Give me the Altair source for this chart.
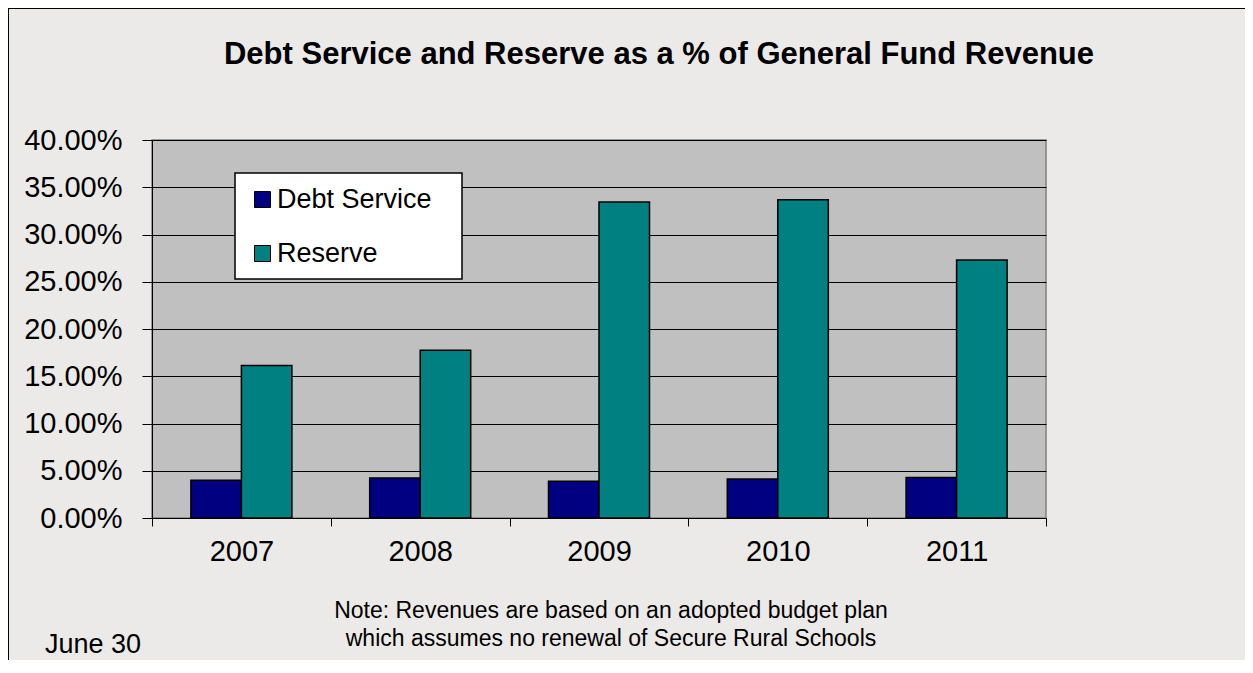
import altair as alt
import pandas as pd

years = ["2007", "2008", "2009", "2010", "2011"]
debt_service = [0.0399, 0.0424, 0.0388, 0.0413, 0.0428]
reserve = [0.1614, 0.1776, 0.3344, 0.3369, 0.2730]
series = ["Debt Service", "Reserve"]
colors = ["#000080", "#008080"]
y_ticks = [0.0, 0.05, 0.10, 0.15, 0.20, 0.25, 0.30, 0.35, 0.40]
title_text = "Debt Service and Reserve as a % of General Fund Revenue"
note_text = "Note:  Revenues are based on an adopted budget plan\nwhich assumes no renewal of Secure Rural Schools"
date_text = "June 30"

FONT = "Liberation Sans, Arial, sans-serif"

rows = []
for i, yr in enumerate(years):
    rows.append({"Year": yr, "Series": series[0], "Value": debt_service[i]})
    rows.append({"Year": yr, "Series": series[1], "Value": reserve[i]})
df = pd.DataFrame(rows)

one = alt.Data(values=[{"a": 1}])

# white legend box behind the legend entries
legend_box = alt.Chart(one).mark_rect(fill="white", stroke="black", strokeWidth=1.5).encode(
    x=alt.value(83), x2=alt.value(310), y=alt.value(33), y2=alt.value(139))

bars = alt.Chart(df).mark_bar(stroke="black", strokeWidth=1.5).encode(
    x=alt.X(
        "Year:N", sort=years,
        scale=alt.Scale(paddingInner=0, paddingOuter=0),
        axis=alt.Axis(title=None, labelAngle=0, tickBand="extent", tickSize=8,
                      labelPadding=11, labelFontSize=29, labelFont=FONT,
                      labelColor="black", domainColor="black", tickColor="black",
                      domainWidth=1, tickWidth=1, grid=False),
    ),
    xOffset=alt.XOffset("Series:N", sort=series,
                        scale=alt.Scale(paddingInner=0, paddingOuter=0.77)),
    y=alt.Y(
        "Value:Q",
        scale=alt.Scale(domain=[0, 0.4], nice=False),
        axis=alt.Axis(title=None, values=y_ticks, format=".2%", tickSize=10,
                      labelPadding=20, labelFontSize=29, labelFont=FONT,
                      labelColor="black", domainColor="black", tickColor="black",
                      gridColor="black", gridWidth=1, grid=True,
                      domainWidth=1, tickWidth=1),
    ),
    color=alt.Color(
        "Series:N", sort=series,
        scale=alt.Scale(domain=series, range=colors),
        legend=alt.Legend(title=None, orient="none", legendX=83, legendY=33,
                          direction="vertical", padding=13, symbolType="square",
                          symbolSize=256, symbolStrokeColor="black",
                          symbolStrokeWidth=1, symbolOpacity=1, symbolOffset=1,
                          labelFont=FONT, labelFontSize=27, labelColor="black",
                          labelOffset=1, rowPadding=26, labelLimit=400),
    ),
)

title_t = alt.Chart(alt.Data(values=[{"t": title_text}])).mark_text(
    font=FONT, fontSize=31, fontWeight="bold", align="center",
    baseline="alphabetic", color="black"
).encode(text="t:N", x=alt.value(507), y=alt.value(-76))

note_t = alt.Chart(alt.Data(values=[{"t": note_text}])).mark_text(
    font=FONT, fontSize=23, align="center", baseline="alphabetic",
    color="black", lineBreak="\n", lineHeight=28
).encode(text="t:N", x=alt.value(459), y=alt.value(478))

date_t = alt.Chart(alt.Data(values=[{"t": date_text}])).mark_text(
    font=FONT, fontSize=27, align="left", baseline="alphabetic", color="black"
).encode(text="t:N", x=alt.value(-107), y=alt.value(513))

border_top = alt.Chart(one).mark_rule(color="black", strokeWidth=2).encode(
    x=alt.value(-144), x2=alt.value(1095), y=alt.value(-132))
border_left = alt.Chart(one).mark_rule(color="black", strokeWidth=2).encode(
    x=alt.value(-144), y=alt.value(-132), y2=alt.value(522))

chart = alt.layer(legend_box, bars, title_t, note_t, date_t, border_top, border_left).properties(
    width=894, height=378,
    autosize=alt.AutoSizeParams(type="none"),
    padding={"left": 144, "top": 132, "right": 199, "bottom": 142},
    background="#EBEAE8",
).configure_view(fill="#C0C0C0", stroke="#808080", strokeWidth=1.5)

chart.save("out.html", embed_options={"renderer": "svg", "actions": False})
